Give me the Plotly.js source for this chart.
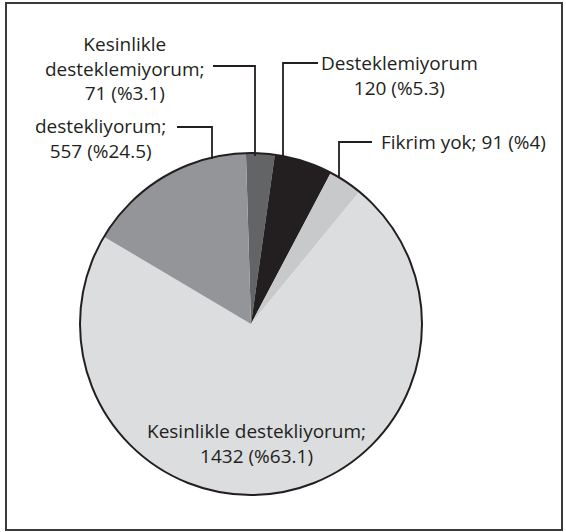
<!DOCTYPE html>
<html>
<head>
<meta charset="utf-8">
<script src="https://cdn.plot.ly/plotly-3.0.1.min.js"></script>
<style>html,body{margin:0;padding:0;background:#fff;}#chart{width:566px;height:532px;}</style>
</head>
<body>
<div id="chart"></div>
<script>
// ---- data ----
var categories = ['Kesinlikle desteklemiyorum', 'Desteklemiyorum', 'Fikrim yok', 'Kesinlikle destekliyorum', 'destekliyorum'];
var counts = [71, 120, 91, 1432, 557];
var percentLabels = ['%3.1', '%5.3', '%4', '%63.1', '%24.5'];
// slice sizes as they are drawn in the reference picture (angles measured, in %)
var drawnShares = [2.7, 5.5, 3.2, 72.6, 16.0];
var displayNames = ['Kesinlikle<br>desteklemiyorum;', 'Desteklemiyorum', 'Fikrim yok;', 'Kesinlikle destekliyorum;', 'destekliyorum;'];
var joiners = ['<br>', '<br>', ' ', '<br>', '<br>'];
var sliceColors = ['#636466', '#231f20', '#c8c9cb', '#dcdddf', '#939598'];

// ---- layout helpers (pixel -> paper) ----
var W = 566, H = 532;
function px(x) { return x / W; }
function py(y) { return 1 - y / H; }
var cx = 251, cy = 324, r = 171;

// label placement (pixel centres) and leader lines
var labelPos = [[125, 68], [399, 76], [463, 142], [256, 443], [100, 139]];
var leaders = [
  [[213, 66], [255, 66], [255, 156]],
  [[318, 63], [283, 63], [283, 157]],
  [[372, 142], [339, 142], [339, 178]],
  null,
  [[177, 127], [212, 127], [212, 159]]
];

var annotations = categories.map(function (c, i) {
  return {
    text: displayNames[i] + joiners[i] + counts[i] + ' (' + percentLabels[i] + ')',
    x: px(labelPos[i][0]), y: py(labelPos[i][1]),
    xref: 'paper', yref: 'paper', xanchor: 'center', yanchor: 'middle',
    showarrow: false, align: 'center',
    font: {family: '"Open Sans", sans-serif', size: 19, color: '#231f20'}
  };
});

var shapes = [
  {type: 'rect', xref: 'paper', yref: 'paper', x0: px(6), x1: px(562), y0: py(530), y1: py(3),
   line: {color: '#3a3a3a', width: 2}, fillcolor: 'rgba(0,0,0,0)'},
  {type: 'circle', xref: 'paper', yref: 'paper', x0: px(cx - r), x1: px(cx + r), y0: py(cy + r), y1: py(cy - r),
   line: {color: '#231f20', width: 2}, fillcolor: 'rgba(0,0,0,0)'}
];
leaders.forEach(function (pts) {
  if (!pts) return;
  var d = pts.map(function (p, k) { return (k ? 'L' : 'M') + px(p[0]) + ',' + py(p[1]); }).join(' ');
  shapes.push({type: 'path', xref: 'paper', yref: 'paper', path: d, line: {color: '#231f20', width: 1.8}});
});

var trace = {
  type: 'pie',
  labels: categories,
  values: drawnShares,
  sort: false,
  direction: 'clockwise',
  rotation: -1.7,
  textinfo: 'none',
  hoverinfo: 'label',
  marker: {colors: sliceColors, line: {width: 0}},
  domain: {x: [px(cx - r), px(cx + r)], y: [py(cy + r), py(cy - r)]},
  showlegend: false
};

var layout = {
  width: W, height: H,
  margin: {l: 0, r: 0, t: 0, b: 0},
  paper_bgcolor: '#ffffff',
  showlegend: false,
  annotations: annotations,
  shapes: shapes
};

Plotly.newPlot('chart', [trace], layout, {displayModeBar: false, staticPlot: true});
</script>
</body>
</html>
